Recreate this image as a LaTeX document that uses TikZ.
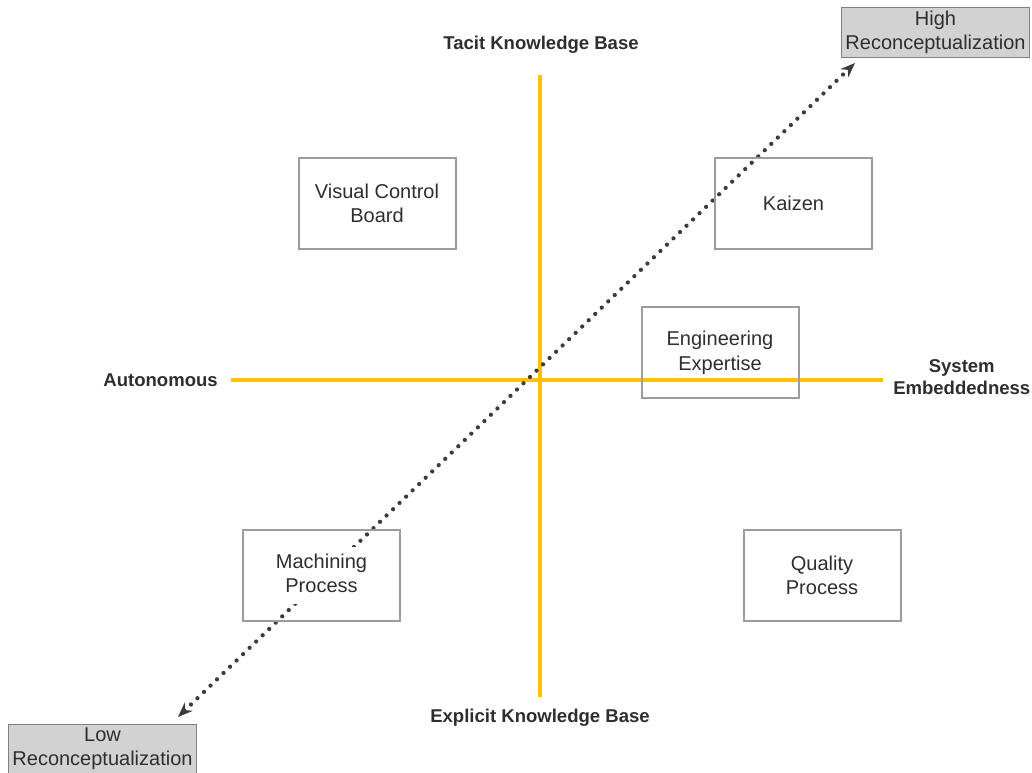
\documentclass[tikz,border=0pt]{standalone}
\usepackage{fontspec}
\setmainfont{Liberation Sans}
\usetikzlibrary{arrows.meta}

\definecolor{axisyellow}{HTML}{FFC000}
\definecolor{boxgray}{HTML}{9C9C9C}
\definecolor{dotgray}{HTML}{3C3C3C}
\definecolor{tagfill}{HTML}{D2D2D2}
\definecolor{inkgray}{HTML}{2E2E2E}
\newcommand{\knockout}[1]{\colorbox{white}{\begin{tabular}{@{}c@{}}#1\end{tabular}}}

\tikzset{
	quad/.style={draw=boxgray, line width=1.5pt, minimum width=117.75pt, minimum height=68.25pt, align=center, text=inkgray, font=\fontsize{15}{18.5}\selectfont},
	tag/.style={draw=gray, fill=tagfill, line width=0.8pt, minimum width=141pt, minimum height=37pt, inner sep=1pt, align=center, text=inkgray, font=\fontsize{15}{18}\selectfont},
	axislabel/.style={inner sep=0pt, align=center, text=inkgray, font=\fontsize{13.9}{16.5}\selectfont\bfseries},
	axis/.style={axisyellow, line width=3pt},
	reconcept/.style={dotgray, line width=3.2pt, line cap=round, dash pattern=on 0pt off 6.8pt, {Stealth[length=11pt,width=8.5pt]}-{Stealth[length=11pt,width=8.5pt]}}
}

\begin{document}
\begin{tikzpicture}[x=0.75pt, y=-0.75pt]
	\useasboundingbox (0, 0) rectangle (1032, 773);
	% axis labels
	\node[axislabel] (tacit) at (541, 45) {Tacit Knowledge Base};
	\node[axislabel] (explicit) at (540, 718) {Explicit Knowledge Base};
	\node[axislabel, anchor=east] (autonomous) at (218, 380) {Autonomous};
	\node[axislabel, anchor=west] (embedded) at (893, 377) {System\\Embeddedness};
	% axes
	\draw[axis] (540, 75) -- (540, 697);
	\draw[axis, shorten <=9.5pt, shorten >=7.5pt] (autonomous.east) -- (autonomous.east -| embedded.west);
	% reconceptualization arrow
	\coordinate (lowtip) at (178, 717);
	\coordinate (hightip) at (855, 63);
	\draw[reconcept] (lowtip) -- (hightip);
	% practices
	\node[quad] (board) at (377, 203.5) {Visual Control\\Board};
	\node[quad] (kaizen) at (793.5, 203.5) {Kaizen};
	\node[quad] (expertise) at (720, 352.5) {Engineering\\Expertise};
	\node[quad] (machining) at (321.5, 575.5) {\knockout{Machining\\Process}};
	\node[quad] (quality) at (822, 575.5) {Quality\\Process};
	% end tags
	\node[tag] (high) at (935.5, 32.5) {High\\Reconceptualization};
	\node[tag] (low) at (102.5, 749) {Low\\Reconceptualization};
\end{tikzpicture}
\end{document}
